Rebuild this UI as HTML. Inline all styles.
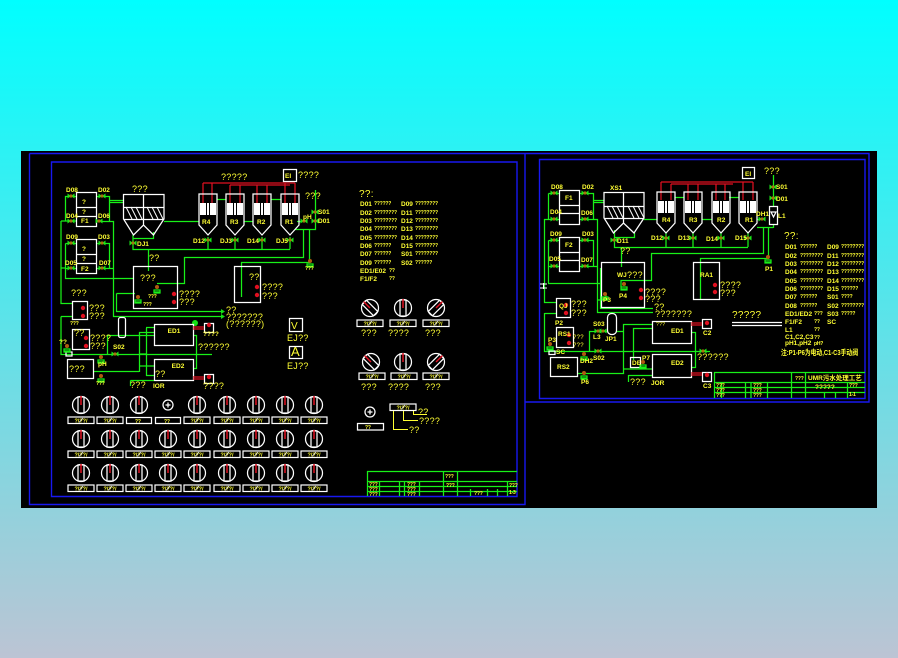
<!DOCTYPE html>
<html><head><meta charset="utf-8"><style>
html,body{margin:0;padding:0;width:898px;height:658px;overflow:hidden;background:linear-gradient(180deg,#00ffff 0%,#2cf2f4 23%,#93d1dc 78%,#bcc4d4 100%)}
svg{position:absolute;left:0;top:0}
text{font-family:"Liberation Sans","Noto Sans CJK SC",sans-serif;fill:#ffff33}
.g{fill:none;stroke:#18f018;stroke-width:1.25}
.w{fill:none;stroke:#fff;stroke-width:1.25}
.b{fill:none;stroke:#1818f0;stroke-width:1.4}
.r{fill:none;stroke:#e01020;stroke-width:1.25}
.q{font-size:9px;letter-spacing:.3px}
.s{font-size:6.5px;font-weight:bold}
.t{font-size:5px;font-weight:bold;letter-spacing:-.2px}
.l{fill:none;stroke:#ffff33;stroke-width:1}
</style></head><body>
<svg width="898" height="658" viewBox="0 0 898 658" xmlns="http://www.w3.org/2000/svg">
<defs>
<g id="v"><path d="M-3.5,-2.5 L3.5,2.5 V-2.5 L-3.5,2.5Z" fill="#18e818"/><circle r="1.6" fill="#a87010"/></g>
<g id="p"><path d="M-3,4 H3 M-3,2 H3 V5 H-3Z" class="g"/><circle cy="-1" r="2" fill="#b05a10"/></g>
<g id="d"><circle r="8.5" class="w"/><rect x="-3" y="-8" width="6" height="16" class="w"/><path d="M0,-9 V0" stroke="#e01020" stroke-width="1.5"/></g>
<g id="tk"><path d="M0,0 H18 V31 L9,41 L0,31Z" class="w"/><rect x="1" y="9" width="16" height="12" fill="#fff"/><path d="M7.5,9 V21 M10.5,9 V21" stroke="#000"/></g>
<g id="hs"><path d="M2,0 L8,12 M7,0 L13,12 M12,0 L18,12 M23,0 L29,12 M28,0 L34,12 M33,0 L39,12" stroke="#fff" fill="none"/></g>
<g id="lb"><rect x="-13" y="0" width="26" height="6.5" stroke="#fff" stroke-width="1.2" fill="#000"/><text x="0" y="5.4" text-anchor="middle" style="font-size:5.5px;font-weight:bold">?/??/</text><path d="M-2,5.5 L2,1" stroke="#fff" stroke-width=".7"/></g>
<circle id="rd" r="2.2" fill="#e01020"/>
</defs>
<rect x="21" y="151" width="856" height="357" fill="#000"/>
<path class="b" d="M29.5,153.5 H869 V402 H525 M29.5,153.5 V504.5 H525 V153.5 M51.5,162 H517 V496.5 H51.5Z M539.5,159.5 H865 V398.5 H539.5Z"/>

<!-- LEFT -->
<path class="r" d="M203,183 H295 M203,183 V203 M212,183 V203 M230,185 H290 M230,185 V203 M240,185 V203 M257,185 V203 M267,185 V203 M285,183 V203 M295,183 V203"/>
<path class="g" d="M61,221 V303.5 H72 M65.5,221 V196.5 H76 M61,221 H76 M65.5,243.5 H76 M65.5,243.5 V278.5 H133 M65.5,268.5 H76 M61,268 H65 M96,196.5 H109.5 V221.5 H96 M96,221.5 H113.5 V316.5 H223 M96,243.5 H109.5 V268.5 M96,268.5 H113 M109,200.5 H123 M109,202.5 H123 M133,238.5 H153.5 V232 M133,235 V249.5 H290 M208,237 V249 M235,237 V249 M262,237 V249 M290,237 V249 M148.5,249 V271 M164,221.5 H199 M217,199.5 H226 M244,221.5 H253 M271,199.5 H281 M315.5,190 V229.5 H295 M303.5,229 V257.5 H184.5 V283.5 H157 M309.5,229 V262.5 H241.5 V297 M116.5,293.5 H135 M116.5,293.5 V311.5 H223 M61,316.5 V354.5 H212 M61,316.5 H72 M61,354.5 H72 M107.5,354 V335.5 H155 M139.5,332 V372 M146.5,328 V376 M146,327.5 H154 M139,332.5 H154 M94,371.5 H139 M146,375.5 H154 M139,366 H154 M139,354 H146 M193,335.5 H196.5 V368.5 H193 M130.5,380.5 H154 M130.5,380.5 V386 M297,221.5 H304"/>
<path d="M221,314 L225,316.5 L221,319Z M221,309 L225,311.5 L221,314Z" fill="#14e014"/>
<circle cx="195" cy="323" r="3" fill="#14e014"/>
<g class="w">
<rect x="76.5" y="192.5" width="20" height="34"/><path d="M76,207.5 H96 M76,216.5 H96"/>
<rect x="76.5" y="239.5" width="20" height="34"/><path d="M76,254.5 H96 M76,263.5 H96"/>
<path d="M123.5,194.5 H164 V219 L153.5,235 L143.5,225 L133.5,235 L123.5,219Z M143.5,194 V225 M123.5,207.5 H164 M123.5,219.5 H164"/>
<rect x="133.5" y="266.5" width="44" height="42"/>
<rect x="234.5" y="266.5" width="26" height="36"/>
<rect x="72.5" y="301.5" width="15" height="18"/>
<rect x="72.5" y="329.5" width="17" height="20"/>
<rect x="67.5" y="359.5" width="26" height="19"/>
<rect x="118.5" y="317.5" width="7" height="20" rx="2"/>
<rect x="154.5" y="324.5" width="39" height="21"/>
<rect x="154.5" y="359.5" width="39" height="21"/>
<rect x="204.5" y="323.5" width="9" height="9"/>
<rect x="204.5" y="374.5" width="9" height="9"/>
<rect x="289.5" y="318.5" width="13" height="13"/>
<rect x="289.5" y="346.5" width="13" height="12"/>
<rect x="283.5" y="169.5" width="13" height="12"/>
<rect x="66" y="352" width="6" height="4" />
</g>
<use href="#hs" x="124" y="207"/>
<use href="#tk" x="199" y="194"/><use href="#tk" x="226" y="194"/><use href="#tk" x="253" y="194"/><use href="#tk" x="281" y="194"/>
<path class="r" d="M193,327 H204 M193,329 H204 M193,377 H204 M193,379 H204"/>
<use href="#rd" x="174" y="294"/><use href="#rd" x="174" y="302"/><use href="#rd" x="257" y="287"/><use href="#rd" x="257" y="295"/><use href="#rd" x="83" y="308"/><use href="#rd" x="83" y="316"/><use href="#rd" x="86" y="338"/><use href="#rd" x="86" y="346"/><use href="#rd" x="209" y="325"/><use href="#rd" x="209" y="377"/>
<use href="#v" x="71" y="196"/><use href="#v" x="102" y="196"/><use href="#v" x="71" y="221"/><use href="#v" x="99" y="221"/><use href="#v" x="71" y="243"/><use href="#v" x="102" y="243"/><use href="#v" x="71" y="268"/><use href="#v" x="102" y="268"/><use href="#v" x="133" y="243"/><use href="#v" x="208" y="240"/><use href="#v" x="235" y="240"/><use href="#v" x="262" y="240"/><use href="#v" x="290" y="240"/><use href="#v" x="315" y="212"/><use href="#v" x="315" y="221"/><use href="#v" x="304" y="221"/><use href="#v" x="115" y="354"/>
<use href="#p" x="138" y="298"/><use href="#p" x="157" y="288"/><use href="#p" x="310" y="262"/><use href="#p" x="101" y="358"/><use href="#p" x="101" y="377"/><use href="#p" x="67" y="347"/>

<text class="s" x="66" y="192">D08</text><text class="s" x="98" y="192">D02</text><text class="s" x="66" y="218">D04</text><text class="s" x="98" y="218">D06</text><text class="s" x="66" y="239">D09</text><text class="s" x="98" y="239">D03</text><text class="s" x="65" y="265">D05</text><text class="s" x="99" y="265">D07</text><text class="s" x="137" y="246">DJ1</text>
<text class="s" x="193" y="243">D12</text><text class="s" x="220" y="243">DJ3</text><text class="s" x="247" y="243">D14</text><text class="s" x="276" y="243">DJ5</text>
<text class="s" x="318" y="214">S01</text><text class="s" x="318" y="223">D01</text><text class="s" x="303" y="219">pH</text>
<text class="s" x="82" y="204">?</text><text class="s" x="82" y="214">?</text><text class="s" x="81" y="223">F1</text><text class="s" x="82" y="251">?</text><text class="s" x="82" y="261">?</text><text class="s" x="81" y="271">F2</text>
<text class="s" x="202" y="224">R4</text><text class="s" x="230" y="224">R3</text><text class="s" x="257" y="224">R2</text><text class="s" x="285" y="224">R1</text>
<text class="q" x="221" y="180">?????</text><text class="s" x="285" y="178">EI</text><text class="q" x="298" y="178">????</text><text class="q" x="305" y="199">???</text><text class="q" x="132" y="192">???</text>
<text class="q" x="149" y="261">??</text><text class="q" x="140" y="281">???</text><text class="q" x="249" y="280">??</text><text class="q" x="179" y="297">????</text><text class="q" x="179" y="305">???</text><text class="q" x="262" y="290">????</text><text class="q" x="262" y="299">???</text><text class="t" x="148" y="298">???</text><text class="t" x="143" y="306">???</text><text class="t" x="305" y="270">???</text>
<text class="q" x="71" y="296">???</text><text class="q" x="89" y="311">???</text><text class="q" x="89" y="319">???</text><text class="t" x="70" y="325">???</text><text class="q" x="74" y="336">??</text><text class="q" x="90" y="341">????</text><text class="q" x="90" y="349">???</text><text class="s" x="59" y="344">??</text>
<text class="q" x="69" y="372">???</text><text class="s" x="98" y="366">pH</text><text class="t" x="96" y="385">???</text><text class="s" x="113" y="349">S02</text><text class="q" x="130" y="388">???</text><text class="s" x="153" y="388">IOR</text><text class="q" x="203" y="389">????</text><text class="s" x="203" y="336">????</text>
<text class="s" x="174" y="333" text-anchor="middle">ED1</text><text class="s" x="178" y="368" text-anchor="middle">ED2</text><text class="q" x="155" y="377">??</text>
<text class="q" x="226" y="313">??</text><text class="q" x="226" y="320">???????</text><text class="q" x="226" y="327">(??????)</text><text class="q" x="198" y="350">??????</text>
<text x="291" y="329" style="font-size:10px">V</text><text x="291" y="356" style="font-size:13px">A</text><text class="q" x="287" y="341">EJ??</text><text class="q" x="287" y="369">EJ??</text>

<text class="q" x="359" y="197" style="font-size:10px">??:</text>
<g class="s"><text x="360" y="206">D01</text><text x="360" y="215">D02</text><text x="360" y="223">D03</text><text x="360" y="231">D04</text><text x="360" y="240">D05</text><text x="360" y="248">D06</text><text x="360" y="256">D07</text><text x="360" y="265">D09</text><text x="360" y="273">ED1/E02</text><text x="360" y="281">F1/F2</text><text x="401" y="206">D09</text><text x="401" y="215">D11</text><text x="401" y="223">D12</text><text x="401" y="231">D13</text><text x="401" y="240">D14</text><text x="401" y="248">D15</text><text x="401" y="256">S01</text><text x="401" y="265">S02</text></g>
<g class="t"><text x="374" y="205">??????</text><text x="374" y="214">????????</text><text x="374" y="222">????????</text><text x="374" y="230">????????</text><text x="374" y="239">????????</text><text x="374" y="247">??????</text><text x="374" y="255">??????</text><text x="374" y="264">??????</text><text x="389" y="272">??</text><text x="389" y="280">??</text><text x="415" y="205">????????</text><text x="415" y="214">????????</text><text x="415" y="222">????????</text><text x="415" y="230">????????</text><text x="415" y="239">????????</text><text x="415" y="247">????????</text><text x="415" y="255">????????</text><text x="415" y="264">??????</text></g>
<g><use href="#d" transform="translate(370,308) rotate(-45)"/><use href="#d" x="403" y="308"/><use href="#d" transform="translate(436,308) rotate(45)"/><use href="#d" transform="translate(371,362) rotate(-45)"/><use href="#d" x="403" y="362"/><use href="#d" transform="translate(436,362) rotate(45)"/></g>
<use href="#lb" x="370" y="320"/><use href="#lb" x="403" y="320"/><use href="#lb" x="436" y="320"/><use href="#lb" x="372" y="373"/><use href="#lb" x="404" y="373"/><use href="#lb" x="436" y="373"/>
<g class="q"><text x="361" y="336">???</text><text x="388" y="336">????</text><text x="425" y="336">???</text><text x="361" y="390">???</text><text x="388" y="390">????</text><text x="425" y="390">???</text><text x="418" y="415">??</text><text x="419" y="424">????</text><text x="409" y="433">??</text></g>
<circle cx="370" cy="412" r="5" class="w"/><path d="M370,409.5 V414.5 M367.5,412 H372.5" class="w"/>
<rect x="357.5" y="423.5" width="26" height="6.5" class="w"/><text class="t" x="365" y="429">??</text>
<use href="#lb" x="403" y="404"/>
<path class="l" d="M393.5,411 V429.5 H408 M403.5,411 V420.5 H418 M413.5,411 V414.5 H427"/>
<!-- left dials -->
<g>
<use href="#d" x="81" y="405"/><use href="#d" x="110" y="405"/><use href="#d" x="139" y="405"/><use href="#d" x="197" y="405"/><use href="#d" x="227" y="405"/><use href="#d" x="256" y="405"/><use href="#d" x="285" y="405"/><use href="#d" x="314" y="405"/>
<use href="#d" x="81" y="439"/><use href="#d" x="110" y="439"/><use href="#d" x="139" y="439"/><use href="#d" x="168" y="439"/><use href="#d" x="197" y="439"/><use href="#d" x="227" y="439"/><use href="#d" x="256" y="439"/><use href="#d" x="285" y="439"/><use href="#d" x="314" y="439"/>
<use href="#d" x="81" y="473"/><use href="#d" x="110" y="473"/><use href="#d" x="139" y="473"/><use href="#d" x="168" y="473"/><use href="#d" x="197" y="473"/><use href="#d" x="227" y="473"/><use href="#d" x="256" y="473"/><use href="#d" x="285" y="473"/><use href="#d" x="314" y="473"/>
</g>
<circle cx="168" cy="405" r="5" class="w"/><path d="M168,402.5 V407.5 M165.5,405 H170.5" class="w"/>
<g>
<use href="#lb" x="81" y="417"/><use href="#lb" x="110" y="417"/><use href="#lb" x="197" y="417"/><use href="#lb" x="227" y="417"/><use href="#lb" x="256" y="417"/><use href="#lb" x="285" y="417"/><use href="#lb" x="314" y="417"/>
<use href="#lb" x="81" y="451"/><use href="#lb" x="110" y="451"/><use href="#lb" x="139" y="451"/><use href="#lb" x="168" y="451"/><use href="#lb" x="197" y="451"/><use href="#lb" x="227" y="451"/><use href="#lb" x="256" y="451"/><use href="#lb" x="285" y="451"/><use href="#lb" x="314" y="451"/>
<use href="#lb" x="81" y="485"/><use href="#lb" x="110" y="485"/><use href="#lb" x="139" y="485"/><use href="#lb" x="168" y="485"/><use href="#lb" x="197" y="485"/><use href="#lb" x="227" y="485"/><use href="#lb" x="256" y="485"/><use href="#lb" x="285" y="485"/><use href="#lb" x="314" y="485"/>
</g>
<rect x="126.5" y="417.5" width="25" height="6" class="w"/><text class="t" x="135" y="423">??</text><rect x="155.5" y="417.5" width="25" height="6" class="w"/><text class="t" x="164" y="423">??</text>
<!-- left title -->
<path class="g" d="M367.5,496 V471.5 H517 M367,481.5 H517 M367,486.5 H517 M367,491.5 H517 M379.5,481 V496 M399.5,481 V496 M404.5,481 V496 M419.5,481 V496 M443.5,471 V496 M457.5,471 V496 M470.5,489 V496 M507.5,481 V496 M487.5,489 V496 M497.5,489 V496"/>
<g class="t"><text x="369" y="486">???</text><text x="369" y="491">???</text><text x="369" y="496">???</text><text x="407" y="486">???</text><text x="407" y="491">???</text><text x="407" y="496">???</text><text x="445" y="478">???</text><text x="446" y="487">???</text><text x="474" y="495">???</text><text x="509" y="487">???</text><text x="509" y="494">1-3</text></g>

<!-- RIGHT -->
<path class="r" d="M661,182 H753 M661,182 V200 M671,184 H733 M671,184 V200 M688,184 V200 M698,184 V200 M716,184 V200 M725,184 V200 M743,182 V200 M753,182 V200"/>
<path class="g" d="M548.5,193.5 H559 M548.5,193.5 V219.5 M544,219.5 H559 M544.5,219 V302.5 H556 M548.5,240.5 H559 M548.5,240.5 V283 M548,266.5 H559 M579,193.5 H593.5 V219.5 M579,219.5 H597.5 V312.5 H653 M593,200.5 H604 M593,202.5 H604 M579,240.5 H593.5 V266.5 M579,266.5 H597 M600.5,268 V308.5 H653 M548,283.5 H600 M614.5,230 V247.5 H748 M666,232 V247 M693,232 V247 M721,232 V247 M748,232 V247 M614,237.5 H634.5 V233 M621.5,247 V267 M644,219.5 H657 M675,197.5 H684 M702,219.5 H712 M729,197.5 H739 M757,219.5 H763 M757,227.5 H773 M763.5,227 V253.5 H651.5 V280.5 H621 V287 M768.5,227 V258.5 H700.5 V299 M773.5,175 V206 M773.5,224 V228 M544.5,313.5 H556 M544.5,313 V351.5 H710 M589.5,351 V331.5 H607 M616,331.5 H623.5 V324.5 H653 M633.5,360 V328.5 H653 M623.5,324 V373.5 H577 M623,369 H652 M628.5,375.5 H652 M628.5,375 V382 M691,332.5 H695.5 V367.5 H691 M598,300 H606 V293"/>
<g class="w">
<rect x="559.5" y="190.5" width="20" height="34"/><path d="M559,205.5 H579 M559,213.5 H579"/>
<rect x="559.5" y="237.5" width="20" height="34"/><path d="M559,252.5 H579 M559,260.5 H579"/>
<path d="M604,192.5 H644 V218 L634,233 L623.5,223 L613.5,233 L604,218Z M623.5,192 V223 M604,206.5 H644 M604,218.5 H644"/>
<rect x="601.5" y="262.5" width="43" height="45"/>
<rect x="693.5" y="262.5" width="26" height="37"/>
<rect x="556.5" y="298.5" width="14" height="19"/>
<rect x="556.5" y="327.5" width="17" height="20"/>
<rect x="550.5" y="357.5" width="27" height="19"/>
<rect x="607.5" y="313.5" width="9" height="21" rx="4"/>
<rect x="652.5" y="321.5" width="39" height="22"/>
<rect x="652.5" y="354.5" width="39" height="23"/>
<rect x="630.5" y="357.5" width="10" height="10"/>
<rect x="702.5" y="319.5" width="9" height="9"/>
<rect x="702.5" y="372.5" width="9" height="9"/>
<rect x="742.5" y="167.5" width="12" height="11"/>
<rect x="769.5" y="206.5" width="8" height="18"/><path d="M771,212 L773.5,217 L776,212Z"/>
<path d="M732,322.5 H782 M732,325.5 H782"/>
<rect x="549" y="351" width="6" height="3.5"/>
</g>
<use href="#hs" x="605" y="206"/>
<use href="#tk" x="657" y="192"/><use href="#tk" x="684" y="192"/><use href="#tk" x="712" y="192"/><use href="#tk" x="739" y="192"/>
<path class="r" d="M691,323 H702 M691,325 H702 M691,373 H702 M691,375 H702"/>
<use href="#rd" x="641" y="290"/><use href="#rd" x="641" y="298"/><use href="#rd" x="715" y="285"/><use href="#rd" x="715" y="292"/><use href="#rd" x="566" y="305"/><use href="#rd" x="566" y="313"/><use href="#rd" x="569" y="335"/><use href="#rd" x="569" y="343"/><use href="#rd" x="707" y="323"/><use href="#rd" x="707" y="375"/>
<use href="#v" x="554" y="193"/><use href="#v" x="585" y="193"/><use href="#v" x="554" y="219"/><use href="#v" x="585" y="219"/><use href="#v" x="554" y="240"/><use href="#v" x="585" y="240"/><use href="#v" x="554" y="266"/><use href="#v" x="585" y="266"/><use href="#v" x="614" y="240"/><use href="#v" x="666" y="238"/><use href="#v" x="693" y="238"/><use href="#v" x="721" y="238"/><use href="#v" x="748" y="238"/><use href="#v" x="773" y="187"/><use href="#v" x="773" y="198"/><use href="#v" x="762" y="219"/><use href="#v" x="598" y="331"/><use href="#v" x="603" y="331"/><use href="#v" x="598" y="351"/><use href="#v" x="703" y="351"/>
<use href="#p" x="624" y="285"/><use href="#p" x="605" y="295"/><use href="#p" x="768" y="258"/><use href="#p" x="584" y="355"/><use href="#p" x="584" y="374"/><use href="#p" x="550" y="345"/><use href="#p" x="643" y="363"/>
<g class="s"><text x="551" y="189">D08</text><text x="582" y="189">D02</text><text x="550" y="214">D04</text><text x="581" y="215">D06</text><text x="550" y="236">D09</text><text x="582" y="236">D03</text><text x="549" y="261">D05</text><text x="581" y="262">D07</text><text x="617" y="243">D11</text><text x="651" y="240">D12</text><text x="678" y="240">D13</text><text x="706" y="241">D14</text><text x="735" y="240">D15</text><text x="756" y="216">DH1</text><text x="776" y="189">S01</text><text x="776" y="201">D01</text><text x="778" y="218">L1</text><text x="765" y="271">P1</text><text x="565" y="200">F1</text><text x="565" y="247">F2</text><text x="662" y="222">R4</text><text x="689" y="222">R3</text><text x="717" y="222">R2</text><text x="745" y="222">R1</text><text x="745" y="176">EI</text><text x="610" y="190">XS1</text><text x="617" y="277">WJ</text><text x="700" y="277">RA1</text><text x="559" y="308">QJ</text><text x="555" y="325">P2</text><text x="558" y="336">RS1</text><text x="548" y="342">P3</text><text x="556" y="354">SC</text><text x="557" y="369">RS2</text><text x="581" y="384">P6</text><text x="580" y="363">DH2</text><text x="593" y="360">S02</text><text x="593" y="326">S03</text><text x="593" y="339">L3</text><text x="605" y="341">JP1</text><text x="603" y="302">P3</text><text x="619" y="298">P4</text><text x="632" y="365">DE</text><text x="642" y="360">P7</text><text x="671" y="333">ED1</text><text x="671" y="365">ED2</text><text x="703" y="335">C2</text><text x="703" y="388">C3</text><text x="651" y="385">JOR</text></g>
<path d="M540,284 H547 M540,288 H547 M543.5,283 V289" stroke="#fff" fill="none"/>
<g class="q"><text x="620" y="254">??</text><text x="627" y="278">???</text><text x="645" y="295">????</text><text x="645" y="302">???</text><text x="720" y="288">????</text><text x="720" y="296">???</text><text x="654" y="310">??</text><text x="655" y="317">???????</text><text x="697" y="360">??????</text><text x="630" y="385">???</text><text x="732" y="318" style="font-size:10px">?????</text><text x="764" y="174">???</text><text x="571" y="307">???</text><text x="571" y="316">???</text><text x="573" y="339" style="font-size:6px">???</text><text x="573" y="347" style="font-size:6px">???</text><text x="656" y="326" style="font-size:5px">???</text></g>

<text class="q" x="784" y="239" style="font-size:10px">??:</text>
<g class="s"><text x="785" y="249">D01</text><text x="785" y="258">D02</text><text x="785" y="266">D03</text><text x="785" y="274">D04</text><text x="785" y="283">D05</text><text x="785" y="291">D06</text><text x="785" y="299">D07</text><text x="785" y="308">D08</text><text x="785" y="316">ED1/ED2</text><text x="785" y="324">F1/F2</text><text x="785" y="332">L1</text><text x="785" y="339">C1,C2,C3</text><text x="785" y="345">pH1,pH2</text><text x="827" y="249">D09</text><text x="827" y="258">D11</text><text x="827" y="266">D12</text><text x="827" y="274">D13</text><text x="827" y="283">D14</text><text x="827" y="291">D15</text><text x="827" y="299">S01</text><text x="827" y="308">S02</text><text x="827" y="316">S03</text><text x="827" y="324">SC</text></g>
<g class="t"><text x="800" y="248">??????</text><text x="800" y="257">????????</text><text x="800" y="265">????????</text><text x="800" y="273">????????</text><text x="800" y="282">????????</text><text x="800" y="290">????????</text><text x="800" y="298">??????</text><text x="800" y="307">??????</text><text x="814" y="315">???</text><text x="814" y="323">??</text><text x="814" y="331">??</text><text x="814" y="339">??</text><text x="814" y="345">pH?</text><text x="841" y="248">????????</text><text x="841" y="257">????????</text><text x="841" y="265">????????</text><text x="841" y="273">????????</text><text x="841" y="282">????????</text><text x="841" y="290">??????</text><text x="841" y="298">????</text><text x="841" y="307">????????</text><text x="841" y="315">?????</text></g>
<text x="781" y="355" textLength="77" lengthAdjust="spacingAndGlyphs" style="font-size:7.5px;font-weight:bold">注:P1-P6为电动,C1-C3手动阀</text>
<path class="g" d="M714.5,398 V372.5 H865 M714,382.5 H865 M714,387.5 H865 M714,392.5 H865 M721.5,382 V398 M745.5,382 V398 M751,382 V398 M767.5,382 V398 M791.5,372 V398 M805.5,372 V398 M824.5,392 V398 M835.5,392 V398 M847.5,382 V398"/>
<g class="t"><text x="716" y="387">???</text><text x="716" y="392">???</text><text x="716" y="397">???</text><text x="753" y="387">???</text><text x="753" y="392">???</text><text x="753" y="397">???</text><text x="795" y="380">???</text><text x="849" y="387">???</text><text x="849" y="396">1-1</text></g>
<text class="s" x="808" y="380">UMR污水处理工艺</text><text class="s" x="815" y="389">?????</text>
</svg>
</body></html>
